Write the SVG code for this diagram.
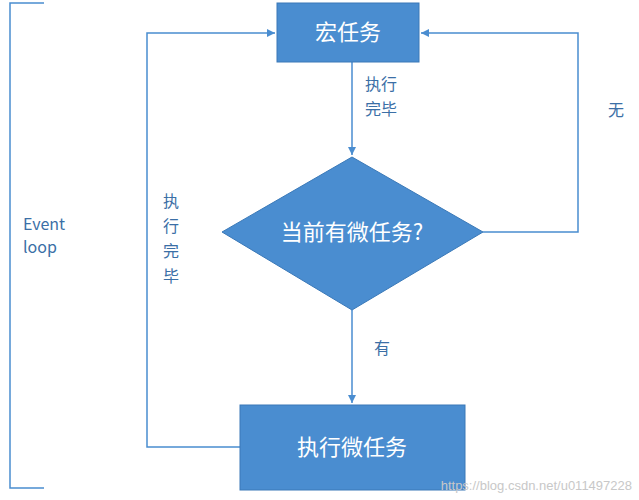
<svg xmlns="http://www.w3.org/2000/svg" width="639" height="500" viewBox="0 0 639 500">
<defs>
<style>
.n{fill:#4a8dd0;stroke:#3a79b8;stroke-width:1}
.t{font-family:"Noto Sans CJK SC","Noto Sans",sans-serif;fill:#fff;font-size:22px;text-anchor:middle}
.l{font-family:"Noto Sans CJK SC","Noto Sans",sans-serif;fill:#3b6fa6;font-size:16px;text-anchor:middle}
.c{fill:none;stroke:#4a8dd0;stroke-width:1.5}
</style>
<marker id="a" viewBox="0 0 10 10" refX="10" refY="5" markerWidth="8" markerHeight="8" orient="auto" markerUnits="userSpaceOnUse"><path d="M0,0L10,5L0,10z" fill="#4a8dd0"/></marker>
</defs>
<rect width="639" height="500" fill="#fff"/>
<g id="bracket"><path class="c" d="M44,3H10V488H44"/>
<text class="l" x="44" y="230">Event</text><text class="l" x="40" y="253">loop</text></g>
<g id="connectors">
<path class="c" d="M352,62V155" marker-end="url(#a)"/>
<path class="c" d="M483,232H578V33H421" marker-end="url(#a)"/>
<path class="c" d="M352,310V403" marker-end="url(#a)"/>
<path class="c" d="M240,447H147V33H275" marker-end="url(#a)"/>
<text class="l" x="381" y="90">执行</text><text class="l" x="381" y="115">完毕</text>
<text class="l" x="616" y="116">无</text>
<text class="l" x="382" y="354">有</text>
<text class="l" x="171" y="207">执</text><text class="l" x="171" y="232">行</text><text class="l" x="171" y="257">完</text><text class="l" x="171" y="282">毕</text>
</g>
<g id="macro"><rect class="n" x="277" y="3" width="142" height="59"/><text class="t" x="348" y="40">宏任务</text></g>
<g id="check"><polygon class="n" points="352,157 483,232 352,310 222,232"/><text class="t" x="352" y="240">当前有微任务?</text></g>
<g id="micro"><rect class="n" x="240" y="405" width="225" height="85"/><text class="t" x="352" y="455">执行微任务</text></g>
<text x="632" y="490" font-family="Liberation Sans,sans-serif" font-size="13" fill="#c8c8c8" text-anchor="end">https://blog.csdn.net/u011497228</text>
</svg>
